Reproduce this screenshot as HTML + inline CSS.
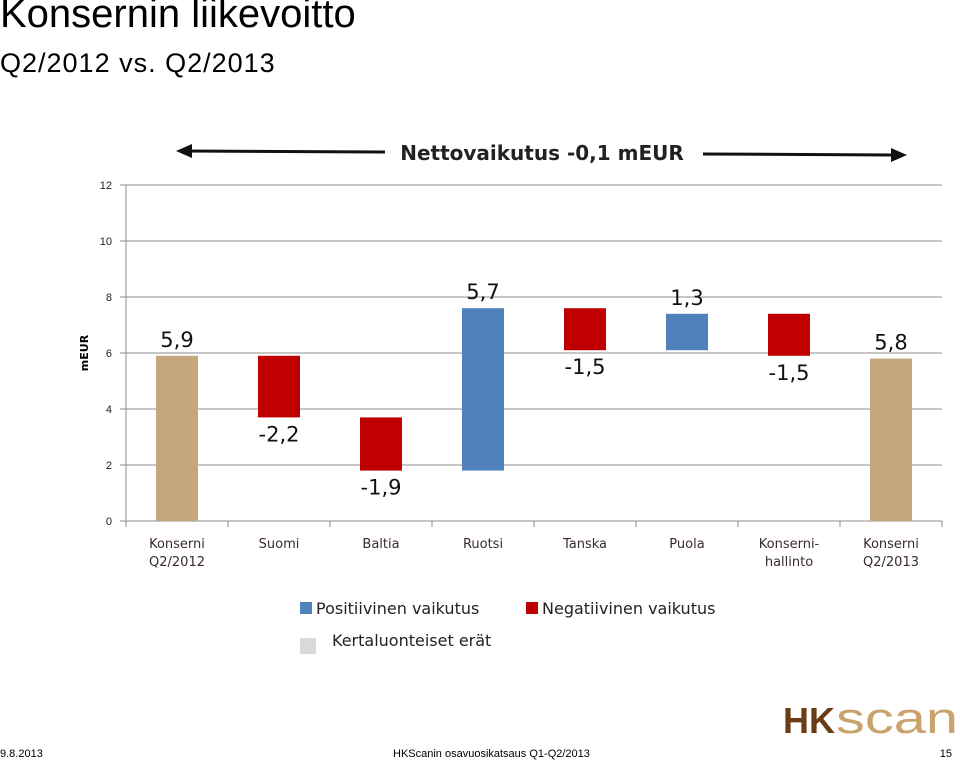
<!DOCTYPE html>
<html><head><meta charset="utf-8"><style>
body{margin:0;width:960px;height:762px;background:#fff;overflow:hidden;font-family:"Liberation Sans",sans-serif;position:relative}
.t{position:absolute;left:0;color:#000}
</style></head><body>
<div class="t" style="top:-8px;font-size:40px;">Konsernin liikevoitto</div>
<div class="t" style="top:48px;font-size:27px;letter-spacing:1px">Q2/2012 vs. Q2/2013</div>
<svg id="c" width="960" height="762" style="position:absolute;left:0;top:0">
<g>
<line x1="185" y1="151" x2="385" y2="152" stroke="#111" stroke-width="3"/>
<polygon points="176,151 192,144 192,158" fill="#111"/>
<line x1="703" y1="154" x2="898" y2="155" stroke="#111" stroke-width="3"/>
<polygon points="907,155 891,148 891,162" fill="#111"/>
<text x="542" y="160" text-anchor="middle" font-size="20" font-weight="bold" fill="#222" font-family="DejaVu Sans, sans-serif">Nettovaikutus -0,1 mEUR</text>
</g>
<text x="88" y="353" transform="rotate(-90 88 353)" text-anchor="middle" font-size="11" font-weight="bold" font-family="DejaVu Sans, sans-serif">mEUR</text>
<g id="grid"></g><g id="bars"></g>
<g font-family="DejaVu Sans, sans-serif" font-size="16" fill="#222">
<rect x="300" y="602" width="12" height="12" fill="#4f81bd"/><text x="316" y="614">Positiivinen vaikutus</text>
<rect x="526" y="602" width="12" height="12" fill="#c00000"/><text x="542" y="614">Negatiivinen vaikutus</text>
<rect x="300" y="638" width="16" height="16" fill="#d9d9d9"/><text x="332" y="646">Kertaluonteiset erät</text>
</g>
<text x="0" y="757" font-size="11">9.8.2013</text>
<text x="393" y="757" font-size="11">HKScanin osavuosikatsaus Q1-Q2/2013</text>
<text x="952" y="757" font-size="11" text-anchor="end">15</text>
<g>
<text x="783" y="733" font-size="36" font-weight="bold" fill="#6b3d14" textLength="52" lengthAdjust="spacingAndGlyphs">HK</text>
<text x="836" y="733" font-size="44" fill="#c9a36b" textLength="122" lengthAdjust="spacingAndGlyphs">scan</text>
</g>
</svg>
<script>
const categories=["Konserni|Q2/2012","Suomi","Baltia","Ruotsi","Tanska","Puola","Konserni-|hallinto","Konserni|Q2/2013"];
const values=[5.9,-2.2,-1.9,5.8,-1.5,1.3,-1.5,5.8];
const kinds=["total","delta","delta","delta","delta","delta","delta","total"];
const labels=["5,9","-2,2","-1,9","5,7","-1,5","1,3","-1,5","5,8"];
const yTicks=[0,2,4,6,8,10,12];
const NS="http://www.w3.org/2000/svg";
const X0=126,X1=942,Y0=521,Y12=185;
const y=v=>Y0-(v/12)*(Y0-Y12);
const step=(X1-X0)/categories.length;
const xc=i=>X0+step*(i+0.5);
function mk(t,a,p){const e=document.createElementNS(NS,t);for(const k in a)e.setAttribute(k,a[k]);p.appendChild(e);return e;}
const g=document.getElementById('grid'),b=document.getElementById('bars');
yTicks.forEach(t=>{
 const l=mk('line',{x1:X0-6,x2:X1,y1:y(t),y2:y(t),stroke:'#8c8c8c','stroke-width':1},g);
 
 
 const tx=mk('text',{x:112,y:y(t)+4,'text-anchor':'end','font-size':11,fill:'#222'},g);tx.textContent=t;
 
 
});
mk('line',{x1:X0,x2:X0,y1:Y12,y2:Y0,stroke:'#8c8c8c'},g);
for(let i=0;i<=categories.length;i++)mk('line',{x1:X0+step*i,x2:X0+step*i,y1:Y0,y2:Y0+6,stroke:'#8c8c8c'},g);
let run=0;
values.forEach((v,i)=>{
 let lo,hi,col;
 if(kinds[i]==='total'){lo=0;hi=v;run=v;col='#c4a77d';}
 else{const nr=run+v;lo=Math.min(run,nr);hi=Math.max(run,nr);run=nr;col=v>0?'#4f81bd':'#c00000';}
 const r=mk('rect',{x:xc(i)-21,y:y(hi),width:42,height:y(lo)-y(hi),fill:col},b);
 
 
 const up=v>0;
 const lt=mk('text',{x:xc(i),y:up?y(hi)-9:y(lo)+24,'text-anchor':'middle','font-size':21,fill:'#111','font-family':'DejaVu Sans, sans-serif'},b);
 lt.textContent=labels[i];
 
 
 categories[i].split('|').forEach((s,k)=>{
  const c=mk('text',{x:xc(i),y:548+k*18,'text-anchor':'middle','font-size':13,fill:'#3a2a30','font-family':'DejaVu Sans, sans-serif'},b);
  c.textContent=s;
  
  
 });
});
</script>
</body></html>
